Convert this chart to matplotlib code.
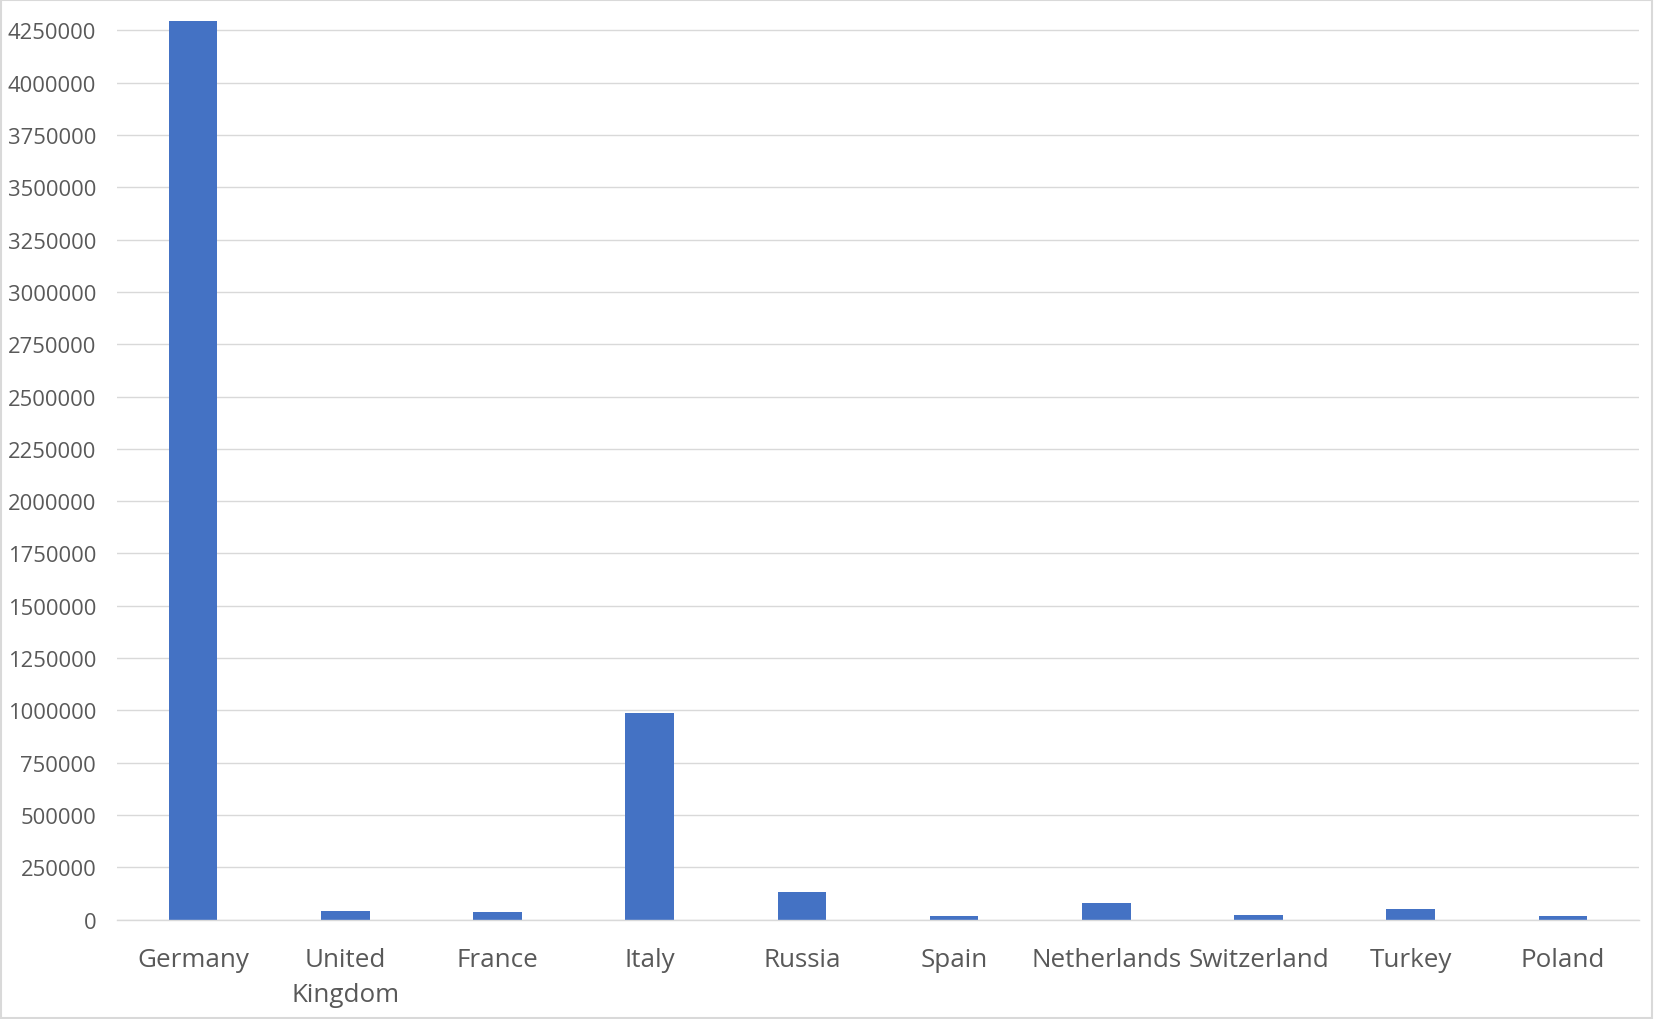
import matplotlib
matplotlib.use("Agg")
import matplotlib.pyplot as plt
from matplotlib.patches import Rectangle

countries = ["Germany", "United\nKingdom", "France", "Italy", "Russia", "Spain",
             "Netherlands", "Switzerland", "Turkey", "Poland"]
values = [4292000, 42000, 37000, 988000, 134000, 19000, 81000, 24000, 52500, 19000]
y_ticks = list(range(0, 4250001, 250000))

BAR = "#4472C4"
GRID = "#D9D9D9"
TEXT = "#595959"

plt.rcParams["font.family"] = ["Open Sans", "DejaVu Sans"]

fig = plt.figure(figsize=(16.54, 10.2), dpi=100)
ax = fig.add_axes([117 / 1654, 1 - 920.7 / 1020, (1639 - 117) / 1654, (920.7 - 20.8) / 1020])

x = range(len(countries))
ax.bar(x, values, width=0.32, color=BAR, zorder=3)

ax.set_xlim(-0.5, len(countries) - 0.5)
ax.set_ylim(0, 4300000)
ax.set_yticks(y_ticks)
ax.set_yticklabels([str(v) for v in y_ticks], fontsize=15.8, color=TEXT)
ax.set_xticks(list(x))
ax.set_xticklabels(countries, fontsize=18.7, color=TEXT, linespacing=1.5)
ax.tick_params(axis="both", length=0)
ax.tick_params(axis="y", pad=15)
ax.tick_params(axis="x", pad=20)

ax.grid(axis="y", color=GRID, linewidth=1.0, zorder=0)
for side in ["top", "right", "left"]:
    ax.spines[side].set_visible(False)
ax.spines["bottom"].set_color(GRID)
ax.spines["bottom"].set_linewidth(1.0)
ax.spines["bottom"].set_zorder(4)

# light chart-area border
fig.patches.append(Rectangle((0.0005, 0.001), 0.998, 0.998, transform=fig.transFigure,
                             fill=False, edgecolor=GRID, linewidth=1.5))

fig.savefig("out.png", dpi=100)
